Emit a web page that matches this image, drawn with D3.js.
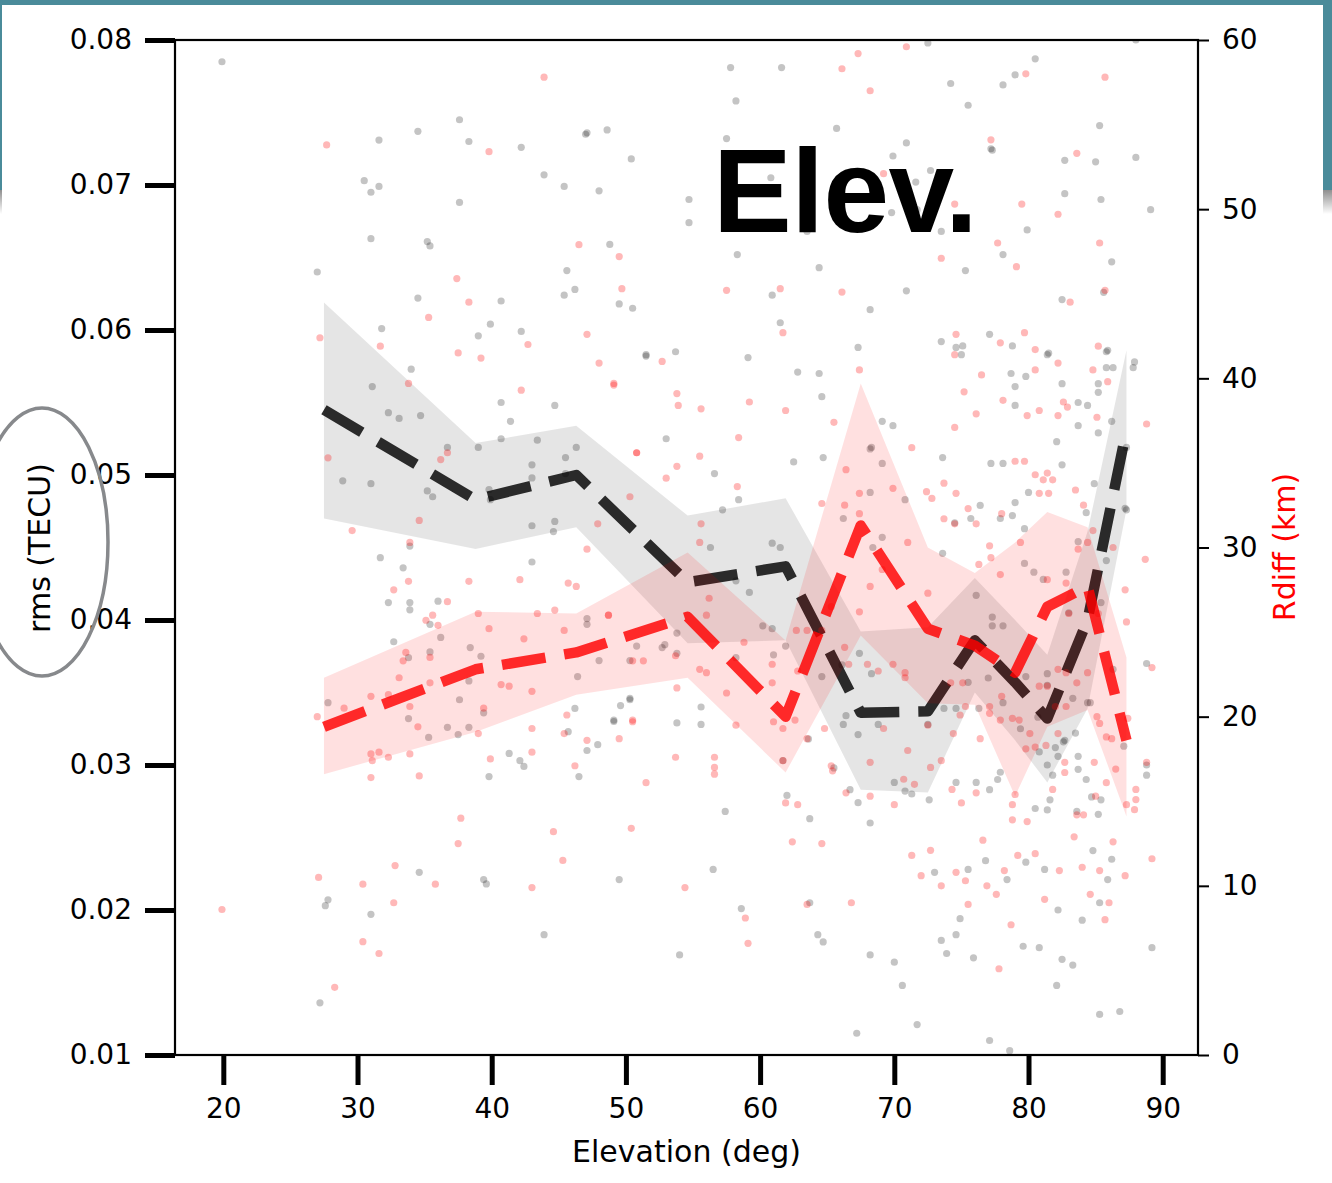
<!DOCTYPE html>
<html>
<head>
<meta charset="utf-8">
<script src="https://cdn.jsdelivr.net/npm/d3@7"></script>
<style>
  html, body { margin: 0; padding: 0; background: #ffffff; }
  svg { display: block; }
  text { font-family: "DejaVu Sans", sans-serif; }
</style>
</head>
<body>
<svg id="chart" width="1332" height="1183"></svg>
<script>
// ---- binned statistics along elevation ----
const elevBins = [27.5, 38.8, 46.3, 54.6, 61.9, 67.5, 72.5, 76.0, 79.0, 81.4, 84.4, 87.3];
const rmsMean  = [0.0545, 0.0483, 0.0500, 0.0426, 0.0437, 0.0336, 0.0337, 0.0386, 0.0357, 0.0332, 0.0400, 0.0531];
const rmsHigh  = [0.0619, 0.0522, 0.0534, 0.0472, 0.0484, 0.0392, 0.0395, 0.0429, 0.0400, 0.0376, 0.0461, 0.0586];
const rmsLow   = [0.0470, 0.0449, 0.0464, 0.0384, 0.0386, 0.0283, 0.0281, 0.0350, 0.0317, 0.0288, 0.0339, 0.0476];
const rdiffMean = [19.4, 22.8, 23.8, 25.9, 20.0, 31.3, 25.2, 24.2, 22.6, 26.5, 27.7, 18.6];
const rdiffHigh = [22.3, 26.2, 26.1, 29.7, 24.5, 39.7, 30.0, 28.5, 30.3, 32.1, 31.2, 23.5];
const rdiffLow  = [16.6, 19.1, 21.3, 22.3, 16.7, 24.8, 20.8, 20.7, 15.3, 19.4, 20.4, 14.1];

// ---- tick labels ----
const elevTicks = [20, 30, 40, 50, 60, 70, 80, 90];
const rmsTicks = [0.01, 0.02, 0.03, 0.04, 0.05, 0.06, 0.07, 0.08];
const rdiffTicks = [0, 10, 20, 30, 40, 50, 60];

// ---- individual samples: [elevation, rms] ----
const rmsSamples = [
[19.9,.0785],[31.6,.0731],[34.5,.0737],[37.6,.0745],[38.3,.0730],[42.2,.0726],[47.0,.0735],[47.1,.0736],[48.6,.0738],[50.4,.0718],
[43.9,.0707],[45.4,.0699],[48.0,.0696],[30.5,.0703],[31.0,.0695],[31.6,.0699],[37.6,.0688],[54.7,.0690],[57.5,.0732],[57.8,.0781],
[58.2,.0758],[61.6,.0781],[65.7,.0739],[70.9,.0729],[69.9,.0720],[71.6,.0702],[72.7,.0710],[74.2,.0770],[72.5,.0798],[75.5,.0755],
[77.2,.0725],[77.3,.0724],[78.1,.0769],[79.0,.0776],[80.5,.0787],[82.7,.0717],[85.0,.0716],[85.3,.0741],[88.0,.0719],[82.7,.0694],
[85.4,.0690],[89.1,.0683],[88.0,.0800],[60.8,.0705],[71.7,.0683],[69.8,.0681],
[27.0,.0640],[31.0,.0663],[35.2,.0661],[35.4,.0658],[45.6,.0641],[48.8,.0659],[54.7,.0674],[58.3,.0652],[60.9,.0624],[61.5,.0605],
[63.5,.0668],[64.4,.0643],[68.2,.0614],[70.9,.0627],[73.5,.0668],[75.3,.0641],[78.1,.0652],[79.9,.0669],[82.5,.0621],[85.6,.0626],[86.2,.0647],
[34.5,.0622],[40.7,.0620],[45.4,.0624],[46.2,.0628],[49.5,.0618],[50.5,.0615],[31.8,.0601],[39.0,.0596],[39.9,.0604],[42.2,.0599],
[51.5,.0582],[34.0,.0573],[31.1,.0561],[40.7,.0550],[44.7,.0548],[32.3,.0543],[33.1,.0539],[34.7,.0541],[41.4,.0537],[36.7,.0519],
[39.0,.0519],[40.7,.0525],[43.4,.0524],[46.3,.0519],[45.5,.0512],[43.0,.0507],[28.9,.0496],[31.0,.0494],[35.2,.0489],[35.6,.0485],
[39.8,.0490],[39.9,.0483],[43.0,.0498],[45.5,.0501],[44.7,.0468],[44.6,.0461],[43.0,.0465],[33.9,.0451],[31.7,.0443],[33.4,.0436],
[43.0,.0440],[32.3,.0412],[33.9,.0412],[33.9,.0407],[36.0,.0413],[32.7,.0385],[35.4,.0397],[36.2,.0388],[38.4,.0381],[39.2,.0375],
[47.1,.0401],[47.1,.0397],[50.8,.0382],[50.3,.0372],[48.0,.0372],[33.8,.0374],[35.4,.0378],[38.3,.0358],[27.8,.0343],[37.6,.0345],
[46.4,.0361],[46.2,.0339],[39.4,.0336],[33.8,.0332],[36.7,.0326],[35.3,.0319],[37.5,.0321],[38.3,.0326],[49.6,.0341],[49.1,.0330],
[50.3,.0345],[45.7,.0323],[47.9,.0314],[47.1,.0310],[41.3,.0308],[42.1,.0303],[42.4,.0299],[39.8,.0292],[46.5,.0292],
[51.5,.0583],[53.7,.0585],[59.1,.0581],[62.8,.0571],[64.4,.0570],[64.6,.0554],[67.3,.0588],[53.0,.0525],[56.6,.0501],[58.4,.0483],
[57.2,.0476],[62.5,.0509],[64.7,.0512],[69.1,.0537],[69.9,.0534],[68.2,.0518],[68.3,.0519],[69.1,.0508],[68.2,.0488],[70.8,.0483],
[73.5,.0592],[74.6,.0588],[75.1,.0589],[75.0,.0583],[77.1,.0597],[78.8,.0589],[81.4,.0583],[81.5,.0584],[78.7,.0570],[79.8,.0568],
[79.0,.0561],[79.0,.0548],[82.5,.0563],[83.7,.0550],[84.4,.0548],[85.2,.0563],[85.2,.0557],[85.8,.0585],[85.9,.0586],[85.8,.0574],
[86.3,.0574],[87.9,.0578],[87.8,.0574],[83.7,.0534],[86.2,.0537],[82.1,.0523],[85.2,.0529],[87.3,.0519],[82.5,.0507],[78.1,.0508],
[77.2,.0508],[73.6,.0512],[84.9,.0494],[80.0,.0488],[79.0,.0481],[76.4,.0479],[75.7,.0470],[74.5,.0467],[77.9,.0470],[78.8,.0472],
[79.7,.0463],[84.3,.0474],[87.2,.0477],[87.3,.0476],[83.7,.0454],[85.8,.0441],[79.7,.0439],[80.4,.0433],[81.1,.0428],[82.8,.0433],
[83.0,.0405],[85.4,.0412],[77.3,.0402],[77.3,.0396],[78.1,.0396],[76.1,.0417],[73.6,.0446],[69.1,.0457],[68.4,.0450],[66.2,.0470],
[61.5,.0450],[60.9,.0453],[58.2,.0427],[59.2,.0419],[56.3,.0450],[53.8,.0391],[52.9,.0383],[52.7,.0381],[53.8,.0377],[60.2,.0396],
[60.9,.0394],[61.0,.0376],[58.2,.0374],[61.9,.0382],[64.6,.0361],[66.1,.0369],[67.4,.0377],[68.3,.0363],[66.4,.0334],[66.2,.0328],
[67.3,.0321],[68.8,.0328],[72.5,.0328],[73.7,.0339],[74.6,.0339],[76.3,.0339],[75.5,.0357],[77.0,.0360],[78.1,.0343],[79.8,.0361],
[80.7,.0333],[81.4,.0363],[81.4,.0355],[79.4,.0325],[82.0,.0312],[82.7,.0317],[83.3,.0346],[83.5,.0322],[83.7,.0306],[84.4,.0343],
[84.6,.0343],[86.3,.0366],[81.4,.0300],[82.6,.0316],[82.2,.0306],[80.8,.0309],[81.8,.0293],[83.7,.0297],[84.3,.0290],[81.6,.0276],
[81.4,.0269],[80.5,.0270],[77.9,.0295],[77.7,.0290],[77.1,.0283],[76.1,.0288],[74.6,.0288],[72.6,.0276],[71.3,.0280],[70.8,.0282],
[70.0,.0288],[67.3,.0274],[66.7,.0283],[65.5,.0298],[63.6,.0318],[62.0,.0279],[61.7,.0303],[57.4,.0268],[55.6,.0340],[55.6,.0328],
[53.8,.0329],[49.1,.0331],[50.3,.0346],[63.7,.0263],[68.2,.0260],[87.1,.0313],[88.8,.0300],[88.8,.0293],[85.4,.0276],[85.2,.0266],
[84.7,.0278],[83.6,.0268],[88.8,.0370],
[27.2,.0136],[27.6,.0203],[27.8,.0207],[31.0,.0197],[34.6,.0226],[39.4,.0221],[39.6,.0218],[43.9,.0183],[49.5,.0221],[54.0,.0169],
[56.5,.0228],[58.6,.0201],[63.7,.0205],[64.3,.0183],[64.7,.0178],[67.2,.0115],[70.0,.0164],[70.6,.0148],[71.7,.0121],[73.9,.0170],
[74.6,.0183],[75.5,.0228],[77.1,.0110],[78.4,.0221],[78.6,.0103],[79.6,.0175],[81.2,.0228],[82.1,.0148],[83.3,.0162],[85.3,.0128],
[86.2,.0235],[89.2,.0174],[68.2,.0169],[73.0,.0226],[73.5,.0179],[74.9,.0194],[75.9,.0167],[76.8,.0234],[79.8,.0233],[80.8,.0174],
[82.2,.0200],[82.5,.0166],[84.0,.0193],[84.8,.0241],[85.3,.0205],[85.9,.0221],[86.8,.0130]
];

// ---- individual samples: [elevation, Rdiff km] ----
const rdiffSamples = [
[43.9,57.8],[27.7,53.8],[39.8,53.4],[67.3,59.2],[70.9,59.6],[66.1,58.3],[68.2,57.0],[79.8,58.0],[85.7,57.8],[77.2,54.1],
[83.6,53.3],[69.2,52.1],[74.5,50.3],[79.5,50.3],[82.2,49.7],
[37.4,45.9],[46.5,47.9],[49.5,47.2],[57.5,45.2],[61.5,45.3],[66.1,45.1],[73.5,47.1],[77.7,48.0],[79.1,46.6],[83.1,44.5],[85.7,45.2],[85.3,48.0],
[38.3,44.5],[35.3,43.6],[27.2,42.4],[31.7,41.9],[37.5,41.5],[39.2,41.2],[42.7,42.0],[47.1,42.6],[49.7,45.3],[48.0,40.9],
[33.8,39.7],[42.2,39.3],[49.1,39.6],[50.8,35.6],[27.8,35.3],[36.7,35.6],[36.2,35.2],[50.3,33.0],[34.6,31.6],[47.9,31.4],
[47.1,29.9],[29.6,31.0],[33.9,30.3],[42.1,28.1],[38.3,28.0],[33.8,28.0],[32.7,27.5],[45.7,27.9],[46.3,27.7],[36.7,26.8],
[35.6,26.0],[35.1,25.7],[36.0,25.4],[39.0,26.1],[43.4,26.1],[44.7,26.3],[39.8,25.2],[45.4,25.1],[48.7,26.0],[42.4,24.6],
[33.6,23.8],[35.4,23.5],[33.4,23.3],[33.1,22.3],[35.4,22.0],[40.7,21.9],[41.3,21.8],[43.0,21.5],[31.0,21.2],[32.3,21.3],
[29.0,20.5],[33.9,20.6],[39.4,20.5],[27.0,20.0],[45.6,20.1],[50.5,19.7],[34.5,19.4],[43.0,19.3],[39.0,19.0],[45.4,19.0],
[49.5,18.7],[47.1,18.6],[31.0,17.8],[31.6,17.9],[31.1,17.4],[32.3,17.6],[33.9,17.8],[43.0,17.9],[39.9,17.5],[46.2,17.1],
[31.0,16.4],[34.6,16.5],
[61.7,42.7],[52.7,41.0],[49.1,39.7],[53.8,39.1],[53.9,38.4],[55.6,38.2],[59.2,38.6],[61.9,38.1],[65.5,37.4],[67.4,40.5],
[50.8,35.6],[55.5,35.4],[58.4,36.5],[53.0,34.1],[53.8,34.8],[58.3,33.6],[64.6,32.6],[66.4,34.6],[69.9,33.5],[71.3,35.9],
[67.4,33.2],[66.3,32.5],[67.4,32.0],[72.4,33.3],[72.8,32.9],[74.6,33.2],[73.7,33.8],[75.2,39.2],[74.5,37.1],[76.5,40.2],
[76.1,37.9],[77.9,42.1],[79.7,42.7],[80.5,41.7],[80.5,40.5],[82.2,40.9],[78.1,38.7],[79.9,37.8],[80.8,38.1],[82.6,38.6],
[82.9,38.3],[82.2,37.8],[85.2,41.9],[84.8,40.5],[85.9,39.8],[85.1,37.7],[88.8,37.3],[79.0,35.1],[79.7,35.1],[80.5,34.3],
[81.4,34.4],[81.1,34.0],[81.8,34.0],[80.8,33.2],[81.5,33.2],[83.5,33.4],[84.1,32.5],[78.0,32.0],[79.4,30.3],[77.1,30.1],
[77.2,29.4],[77.9,28.4],[76.3,29.0],[75.5,32.3],[73.7,31.7],[74.5,31.4],[76.1,31.4],[83.7,29.9],[84.4,30.3],[84.8,31.0],
[86.3,30.0],[88.7,29.3],[87.2,27.5],[87.3,25.6],[82.8,27.9],[81.4,28.1],[83.0,26.1],[85.2,26.1],[89.2,22.9],[83.6,22.0],
[81.4,21.8],[80.8,21.8],[82.2,22.8],[82.8,22.6],[82.8,20.6],[82.0,20.6],[81.3,18.3],[82.2,19.0],[80.5,18.2],[78.8,19.9],
[78.0,21.2],[77.1,20.6],[77.1,20.2],[79.3,19.8],[79.8,18.1],[80.1,19.0],[77.9,19.8],[76.4,18.7],[79.0,15.4],[78.8,14.8],
[79.9,13.8],[78.8,13.9],[84.4,22.6],[85.1,20.0],[85.3,19.6],[85.8,18.8],[86.2,18.7],[86.5,16.9],[85.8,16.1],[84.9,17.3],
[85.0,15.3],[83.6,14.2],[84.1,14.2],[87.3,14.8],[87.9,14.5],[88.0,15.1],[88.8,17.3],[88.0,15.7],[87.4,19.9],[82.7,17.3],
[82.7,16.7],[81.8,15.7],[74.9,20.1],[75.3,20.6],[75.1,22.0],[74.4,19.0],[72.7,17.0],[73.5,17.4],[74.3,15.7],[75.0,14.9],
[76.1,15.5],[72.5,19.5],[74.2,22.0],[69.2,19.3],[68.2,17.3],[71.0,18.0],[70.7,16.3],[71.5,16.0],[70.0,14.8],[68.2,15.3],
[66.4,15.5],[64.8,19.3],[63.5,18.7],[61.7,19.3],[62.6,19.8],[61.0,19.7],[61.7,17.4],[61.9,14.9],[62.8,14.8],[65.4,16.8],
[65.3,17.1],[58.2,19.5],[56.6,17.6],[56.6,17.0],[56.6,16.6],[53.7,17.6],[51.5,16.1],[50.5,19.8],[53.8,21.7],[55.5,22.8],
[56.0,22.6],[57.5,21.4],[58.8,24.4],[56.2,27.0],[56.0,26.0],[55.6,31.4],[55.5,30.3],[48.7,26.0],[50.5,23.3],[51.3,23.3],
[53.7,23.6],[60.9,23.1],[60.9,22.0],[62.8,22.7],[66.6,23.1],[68.0,23.1],[68.8,22.7],[69.9,23.1],[70.8,22.6],[70.8,22.3],
[66.3,24.1],[64.6,25.1],[63.5,25.1],[62.7,25.1],[65.3,26.5],[67.4,26.2],[68.2,27.7],[69.1,28.7],[72.5,27.3],[71.0,30.3],
[74.6,42.6],[74.5,41.4],
[19.9,8.6],[27.1,10.5],[28.3,4.0],[30.4,10.1],[30.4,6.7],[31.6,6.0],[32.8,11.2],[32.7,9.0],[35.8,10.1],[37.5,12.5],
[37.7,14.0],[43.0,9.9],[44.6,13.2],[45.3,11.5],[50.4,13.4],[54.4,9.9],[58.9,8.1],[59.1,6.6],[62.4,12.6],[63.5,8.9],
[64.6,12.5],[66.8,9.0],[73.5,10.0],[75.5,8.9],[76.6,12.7],[76.9,10.0],[77.8,5.1],[83.4,12.9],[84.6,9.5],[86.0,9.0],
[89.2,11.6],[78.2,10.9],[78.7,7.7],[81.2,9.2],[82.3,10.9],[84.0,11.1],[85.3,10.9],[85.7,8.0],[86.3,12.6],[87.2,10.6],
[71.3,11.8],[72.0,10.6],[72.7,12.1],[74.6,10.8],[75.3,10.3],[77.6,9.5],[79.2,11.8],[80.5,11.9]
];

// ---- layout ----
const W = 1332, H = 1183;
const plot = { left: 175, right: 1198, top: 40, bottom: 1055 };

const svg = d3.select("#chart");

// slide backdrop: teal header band with a soft shadow below it
const defs = svg.append("defs");
const shade = defs.append("linearGradient").attr("id", "shade").attr("x1", 0).attr("y1", 0).attr("x2", 0).attr("y2", 1);
shade.append("stop").attr("offset", "0%").attr("stop-color", "#8f8f8f");
shade.append("stop").attr("offset", "100%").attr("stop-color", "#ffffff");
svg.append("rect").attr("x", 0).attr("y", 0).attr("width", W).attr("height", 190).attr("fill", "#4a8b9a");
svg.append("rect").attr("x", 0).attr("y", 190).attr("width", W).attr("height", 24).attr("fill", "url(#shade)");
svg.append("rect").attr("x", 2).attr("y", 5).attr("width", 1321).attr("height", H - 5).attr("fill", "#ffffff");

defs.append("clipPath").attr("id", "plotclip").append("rect")
  .attr("x", plot.left).attr("y", plot.top)
  .attr("width", plot.right - plot.left).attr("height", plot.bottom - plot.top);

// ---- scales ----
const x = d3.scaleLinear().domain([16.4, 92.63]).range([plot.left, plot.right]);
const yL = d3.scaleLinear().domain([0.01, 0.08]).range([plot.bottom, plot.top]);
const yR = d3.scaleLinear().domain([0, 60]).range([plot.bottom, plot.top]);

const idx = d3.range(elevBins.length);
const g = svg.append("g").attr("clip-path", "url(#plotclip)");

// rms layer: samples, spread band, binned mean
g.append("g").selectAll("circle").data(rmsSamples).join("circle")
  .attr("cx", d => x(d[0])).attr("cy", d => yL(d[1])).attr("r", 3.6)
  .attr("fill", "#000").attr("fill-opacity", 0.23);

g.append("path").datum(idx)
  .attr("d", d3.area().x(i => x(elevBins[i])).y0(i => yL(rmsLow[i])).y1(i => yL(rmsHigh[i])))
  .attr("fill", "#000").attr("fill-opacity", 0.1);

g.append("path").datum(idx)
  .attr("d", d3.line().x(i => x(elevBins[i])).y(i => yL(rmsMean[i])))
  .attr("fill", "none").attr("stroke", "#000").attr("stroke-opacity", 0.82)
  .attr("stroke-width", 10.5).attr("stroke-dasharray", "44,19")
  .attr("stroke-linejoin", "round").attr("stroke-linecap", "butt");

// Rdiff layer on the twin axis
g.append("g").selectAll("circle").data(rdiffSamples).join("circle")
  .attr("cx", d => x(d[0])).attr("cy", d => yR(d[1])).attr("r", 3.6)
  .attr("fill", "#ff0000").attr("fill-opacity", 0.28);

g.append("path").datum(idx)
  .attr("d", d3.area().x(i => x(elevBins[i])).y0(i => yR(rdiffLow[i])).y1(i => yR(rdiffHigh[i])))
  .attr("fill", "#ff0000").attr("fill-opacity", 0.12);

g.append("path").datum(idx)
  .attr("d", d3.line().x(i => x(elevBins[i])).y(i => yR(rdiffMean[i])))
  .attr("fill", "none").attr("stroke", "#ff0000").attr("stroke-opacity", 0.82)
  .attr("stroke-width", 10.5).attr("stroke-dasharray", "44,19")
  .attr("stroke-linejoin", "round").attr("stroke-linecap", "butt");

// ---- title ----
svg.append("text").attr("x", 713).attr("y", 232)
  .style("font-family", "'Liberation Sans', Arial, sans-serif")
  .style("font-weight", "bold").style("font-size", "118px")
  .style("letter-spacing", "-0.5px")
  .attr("fill", "#000").text("Elev.");

// ---- spines ----
svg.append("rect").attr("x", plot.left).attr("y", plot.top)
  .attr("width", plot.right - plot.left).attr("height", plot.bottom - plot.top)
  .attr("fill", "none").attr("stroke", "#000").attr("stroke-width", 2.2);

// ---- axes ----
function styleAxis(sel, tickWidth) {
  sel.select(".domain").remove();
  sel.selectAll(".tick line").attr("stroke", "#000").attr("stroke-width", tickWidth);
  sel.selectAll(".tick text").attr("fill", "#000")
    .style("font-family", "'DejaVu Sans', sans-serif").style("font-size", "28px");
}

svg.append("g").attr("transform", `translate(0,${plot.bottom})`)
  .call(d3.axisBottom(x).tickValues(elevTicks).tickFormat(d3.format("d")).tickSize(30).tickPadding(13))
  .call(s => styleAxis(s, 5));

svg.append("g").attr("transform", `translate(${plot.left},0)`)
  .call(d3.axisLeft(yL).tickValues(rmsTicks).tickFormat(d3.format(".2f")).tickSize(30).tickPadding(13))
  .call(s => styleAxis(s, 5));

svg.append("g").attr("transform", `translate(${plot.right},0)`)
  .call(d3.axisRight(yR).tickValues(rdiffTicks).tickFormat(d3.format("d")).tickSize(11).tickPadding(13))
  .call(s => styleAxis(s, 2));

// ---- axis titles ----
svg.append("text").attr("x", (plot.left + plot.right) / 2).attr("y", 1162)
  .attr("text-anchor", "middle").style("font-size", "30px").attr("fill", "#000")
  .text("Elevation (deg)");

svg.append("text").attr("transform", "translate(50,548) rotate(-90)")
  .attr("text-anchor", "middle").style("font-size", "30px").attr("fill", "#000")
  .text("rms (TECU)");

svg.append("text").attr("transform", "translate(1295,547) rotate(-90)")
  .attr("text-anchor", "middle").style("font-size", "30px").attr("fill", "#ff0000")
  .text("Rdiff (km)");

// highlight ring around the left axis title
svg.append("ellipse").attr("cx", 42).attr("cy", 542).attr("rx", 66).attr("ry", 134)
  .attr("fill", "none").attr("stroke", "#87898c").attr("stroke-width", 3.5);
</script>
</body>
</html>
